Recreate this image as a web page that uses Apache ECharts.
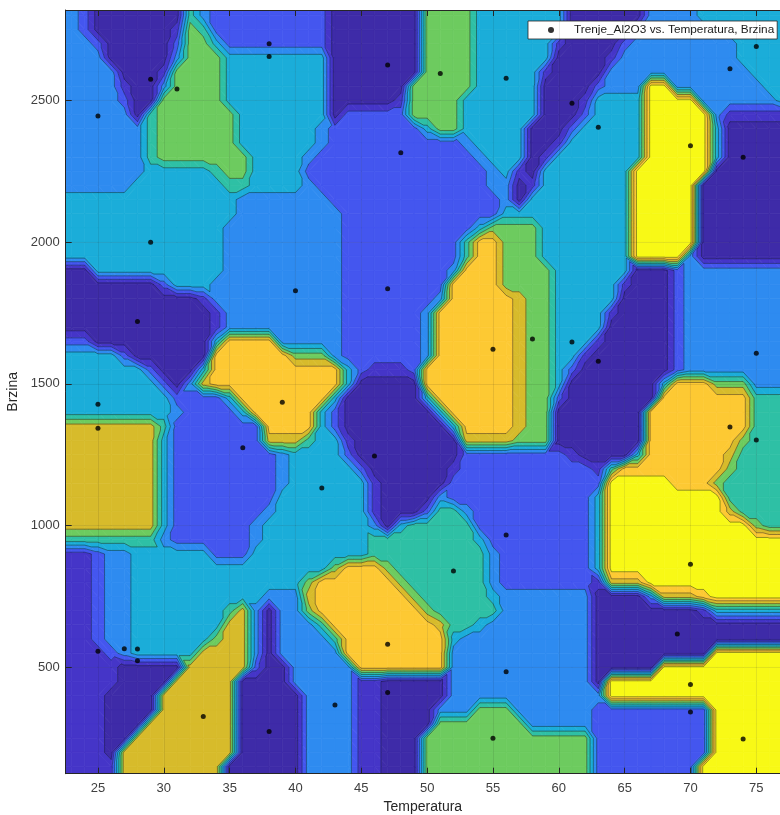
<!DOCTYPE html>
<html>
<head>
<meta charset="utf-8">
<script src="https://cdn.jsdelivr.net/npm/echarts@6/dist/echarts.min.js"></script>
<style>
html,body{margin:0;padding:0;background:#ffffff;}
#chart{width:780px;height:815px;}
</style>
</head>
<body>
<div id="chart"></div>
<script>
// ---- measured data points (Temperatura, Brzina) ----
const temperatura = [29,31,25,29,38,38,47,51,56,48,61,63,70,74,73,75,
  28,25,25,36,40,47,39,55,46,42,56,
  58,61,63,75,73,75,
  25,27,28,28,33,
  52,47,56,47,43,38,55,
  70,69,70,70,74];
const brzina = [2575,2540,2445,2000,2700,2655,2625,2595,2578,2315,2490,2405,2340,2300,2612,2690,
  1720,1428,1344,1275,1829,1836,1435,1622,1246,1133,967,
  1658,1648,1580,1608,1348,1302,
  557,566,565,523,327,
  840,582,485,411,367,274,250,
  864,618,440,343,247];

// ---- axis ticks ----
const tempTicks = [25,30,35,40,45,50,55,60,65,70,75];
const speedTicks = [500,1000,1500,2000,2500];

// ---- grid of the fitted surface (contour level read at each node) ----
const nodeTemps = [22,23,24,25,26,27,28,29,30,31,32,33,34,35,36,37,38,39,40,41,42,43,44,45,46,47,48,49,50,51,52,53,54,55,56,57,58,59,60,61,62,63,64,65,66,67,68,69,70,71,72,73,74,75,76,77];
const nodeSpeeds = [2850,2800,2750,2700,2650,2600,2550,2500,2450,2400,2350,2300,2250,2200,2150,2100,2050,2000,1950,1900,1850,1800,1750,1700,1650,1600,1550,1500,1450,1400,1350,1300,1250,1200,1150,1100,1050,1000,950,900,850,800,750,700,650,600,550,500,450,400,350,300,250,200,150,100];
// each row: "startTemp:level ..." runs, rows ordered from top (2850) to bottom (100)
const levelRows = [
 "22:3 24:2 25:0 32:5 33:3 34:2 43:0 50:6 54:4 61:0 67:3 71:4",
 "22:3 24:2 25:0 32:5 33:3 34:2 43:0 50:6 54:4 61:0 67:3 71:4",
 "22:3 24:2 25:0 31:1 32:6 33:5 34:2 43:0 50:6 54:4 61:0 66:2 67:3 72:4",
 "22:3 25:2 26:0 31:2 32:6 34:4 35:2 43:0 50:6 54:4 60:1 61:0 65:2 66:3 74:4",
 "22:3 26:0 31:3 32:6 35:4 43:0 50:6 54:4 60:0 64:1 65:3 74:4",
 "22:3 27:0 30:1 31:6 35:4 43:0 50:6 54:4 59:1 60:0 64:3 75:4",
 "22:3 27:1 28:0 30:3 31:6 35:4 43:0 49:6 54:4 59:0 63:2 64:3 67:9 69:3 76:4",
 "22:3 27:2 28:0 30:6 35:4 43:0 48:1 49:6 53:4 59:0 62:1 63:4 67:9 71:3 77:4",
 "22:3 28:0 29:5 30:6 36:4 43:0 44:2 49:6 53:4 59:0 62:2 63:4 67:9 72:3 73:1",
 "22:3 29:5 30:6 36:4 42:3 43:2 50:4 51:6 53:4 58:0 61:2 62:4 67:9 72:4 73:0",
 "22:3 29:5 30:6 36:4 42:3 43:2 53:3 54:4 58:0 60:1 61:4 67:9 72:4 73:0",
 "22:3 29:5 30:6 37:4 41:3 42:2 54:3 55:4 58:0 59:1 60:4 67:9 72:4 73:0",
 "22:3 29:4 34:5 35:6 37:4 41:2 55:3 56:4 57:1 58:0 59:4 66:9 72:0",
 "22:3 28:4 35:5 37:4 41:3 42:2 55:3 57:0 58:1 59:4 66:9 71:0",
 "22:4 36:3 43:2 56:3 57:0 58:4 66:9 71:0",
 "22:4 36:3 44:2 56:4 66:9 71:0",
 "22:4 35:3 44:2 54:4 55:6 59:4 66:9 71:0",
 "22:4 35:3 44:2 53:5 54:8 56:6 59:4 66:9 71:0",
 "22:4 35:3 44:2 53:5 54:8 56:6 59:4 66:9 70:3 71:0",
 "22:0 25:4 35:3 44:2 52:3 53:8 56:6 60:4 66:0 69:2 70:3",
 "22:0 30:2 31:4 34:3 44:2 52:8 56:6 60:4 65:1 66:0 69:2 70:3",
 "22:0 33:1 34:3 44:2 51:3 52:8 57:7 58:6 60:4 65:0 69:2 70:3",
 "22:0 34:1 35:3 44:2 50:3 51:8 57:7 58:6 60:4 64:1 65:0 69:2 70:3",
 "22:0 34:1 35:3 44:2 50:3 51:8 57:7 58:6 60:4 64:0 69:2 70:3",
 "22:2 25:0 34:4 35:8 39:3 44:2 50:3 51:8 57:7 58:6 60:4 63:1 64:0 69:2 70:3",
 "22:4 27:2 28:0 34:8 40:6 43:3 44:2 50:3 51:8 57:7 58:6 60:4 62:1 63:0 69:2 70:3",
 "22:4 29:2 30:0 33:4 34:8 44:4 45:2 46:1 49:2 50:8 57:7 58:6 60:4 61:2 62:0 69:2 70:3",
 "22:4 30:2 31:0 32:3 33:7 34:8 44:4 45:0 50:8 57:7 58:6 60:4 61:0 68:4 69:8 72:6 75:3",
 "22:4 31:2 35:4 36:8 43:4 44:0 50:4 51:8 57:7 58:6 60:2 61:0 68:8 75:5",
 "22:4 31:3 32:2 36:4 37:8 42:4 43:2 44:0 51:4 52:8 57:7 58:6 60:0 67:8 75:5",
 "22:7 30:5 31:2 38:8 42:4 43:2 44:0 52:4 53:8 57:7 58:6 60:0 67:8 75:5",
 "22:7 30:4 31:2 38:7 41:5 42:4 44:1 45:0 53:7 57:6 60:0 67:8 74:6 75:5",
 "22:7 30:4 31:2 39:3 40:4 44:2 45:0 53:2 60:2 61:1 62:0 66:4 67:8 73:7 74:5",
 "22:7 30:4 31:2 39:3 40:4 45:2 46:0 52:1 53:2 63:1 64:5 65:8 73:6 74:5",
 "22:7 30:4 31:2 39:3 40:4 46:1 47:0 52:2 64:9 69:8 72:6 73:5",
 "22:7 30:4 31:2 39:4 46:1 47:0 51:3 52:2 63:4 64:9 73:5",
 "22:7 30:4 31:2 38:3 39:4 46:1 47:0 50:2 51:5 53:3 54:2 63:4 64:9 73:7 74:5",
 "22:7 30:4 31:2 37:3 38:4 46:3 47:0 48:4 49:5 54:2 63:4 64:9 75:6 76:5",
 "22:5 30:3 31:2 37:3 38:4 46:5 54:4 55:2 63:4 64:9",
 "22:1 25:2 26:3 28:4 34:2 37:4 46:5 55:3 56:2 63:4 64:9",
 "22:1 25:2 26:3 28:4 43:6 44:8 47:6 48:5 55:3 56:2 63:4 64:9",
 "22:1 25:2 26:3 28:4 41:6 42:8 48:6 49:5 55:3 56:2 63:1 64:7 67:9",
 "22:1 25:2 26:3 28:4 38:3 41:7 42:8 49:6 50:5 55:4 56:3 63:0 67:3 68:7 71:8 72:9",
 "22:1 25:2 26:3 28:4 35:5 36:7 37:3 38:0 39:3 41:6 42:8 50:6 51:5 56:3 63:0 71:1 72:4",
 "22:1 25:2 26:3 28:4 35:7 37:3 38:0 39:3 42:5 43:8 51:7 52:5 54:4 55:3 63:0",
 "22:1 25:2 26:3 28:4 34:6 35:7 37:3 38:0 39:3 43:5 44:8 52:4 53:3 63:0",
 "22:1 26:2 27:3 28:4 33:7 37:3 38:0 39:3 44:8 52:3 63:0 72:9",
 "22:1 27:0 32:7 37:2 38:0 40:3 45:8 52:3 63:0 68:9",
 "22:1 27:0 31:7 36:0 40:3 45:1 47:0 52:3 63:0 64:9",
 "22:1 26:0 30:7 36:0 41:3 45:1 47:0 52:3 64:9",
 "22:1 26:0 30:7 36:0 41:3 45:1 47:0 51:3 54:6 57:3 63:2 72:9",
 "22:1 26:0 29:7 36:0 41:3 45:1 47:0 51:6 58:3 63:2 72:9",
 "22:1 26:0 28:7 36:0 41:3 45:1 47:0 50:6 63:2 72:9",
 "22:1 26:0 27:7 36:0 41:3 45:1 47:0 50:6 63:2 72:9",
 "22:1 26:1 27:7 35:0 41:3 45:1 47:0 50:6 63:2 71:9",
 "22:1 26:1 27:7 35:0 41:3 45:1 47:0 50:6 63:2 71:9"
];
// parula-like colours of the contour bands
const levelColors = ['#3e2ba8','#4535c8','#4456ef','#2e8bf0','#1badd9','#2ec0a5','#6dcb5f','#d7bb2b','#fdc933','#f8f916'];

const seriesName = 'Trenje_Al2O3 vs. Temperatura, Brzina';

// ---- build tables ----
function expandRow(str){
  const runs = str.trim().split(/\s+/).map(s => s.split(':').map(Number));
  return nodeTemps.map(t => { let v = runs[0][1]; for (const r of runs) if (t >= r[0]) v = r[1]; return v; });
}
const levels = levelRows.map(expandRow);
const NL = levelColors.length;
function levelOf(v){ return Math.max(0, Math.min(NL-1, Math.floor(v + 0.5))); }
function clipPoly(poly, t, keepAbove){
  const out = [];
  for (let a = 0; a < poly.length; a++){
    const P = poly[a], Q = poly[(a+1) % poly.length];
    const pin = keepAbove ? P[2] >= t : P[2] <= t;
    const qin = keepAbove ? Q[2] >= t : Q[2] <= t;
    if (pin) out.push(P);
    if (pin !== qin){
      const f = (t - P[2]) / (Q[2] - P[2]);
      out.push([P[0] + f*(Q[0]-P[0]), P[1] + f*(Q[1]-P[1]), t]);
    }
  }
  return out;
}
const cellData = [];
for (let j = 0; j < nodeSpeeds.length - 1; j++){
  for (let i = 0; i < nodeTemps.length - 1; i++){
    cellData.push([(nodeTemps[i]+nodeTemps[i+1])/2, (nodeSpeeds[j]+nodeSpeeds[j+1])/2, i, j]);
  }
}
function cellTriangles(api){
  const i = api.value(2), j = api.value(3);
  const tA = nodeTemps[i], tB = nodeTemps[i+1], sA = nodeSpeeds[j], sB = nodeSpeeds[j+1];
  const a = api.coord([tA, sA]), b = api.coord([tB, sA]), c = api.coord([tB, sB]), d = api.coord([tA, sB]);
  const TL = [a[0], a[1], levels[j][i]], TR = [b[0], b[1], levels[j][i+1]];
  const BR = [c[0], c[1], levels[j+1][i+1]], BL = [d[0], d[1], levels[j+1][i]];
  return {TL, TR, BR, BL, tris: (Math.abs(TL[2]-BR[2]) <= Math.abs(TR[2]-BL[2])) ? [[TL,TR,BR],[TL,BR,BL]] : [[TL,TR,BL],[TR,BR,BL]]};
}
function renderFill(params, api){
  const c = cellTriangles(api);
  const children = [];
  const ls = [c.TL, c.TR, c.BR, c.BL].map(p => levelOf(p[2]));
  if (ls.every(l => l === ls[0])){
    const col = levelColors[ls[0]];
    children.push({type:'polygon', shape:{points:[c.TL, c.TR, c.BR, c.BL].map(p => [p[0], p[1]])}, style:{fill:col, stroke:col, lineWidth:0.7}});
  } else {
    for (const tri of c.tris){
      const vals = tri.map(p => p[2]);
      const kmin = levelOf(Math.min.apply(null, vals)), kmax = levelOf(Math.max.apply(null, vals));
      for (let k = kmin; k <= kmax; k++){
        let poly = tri;
        if (k > 0) poly = clipPoly(poly, k - 0.5, true);
        if (poly.length >= 3 && k < NL - 1) poly = clipPoly(poly, k + 0.5, false);
        if (poly.length >= 3){
          const col = levelColors[k];
          children.push({type:'polygon', shape:{points: poly.map(p => [p[0], p[1]])}, style:{fill:col, stroke:col, lineWidth:0.7}});
        }
      }
    }
  }
  return {type:'group', children};
}
function renderLines(params, api){
  const c = cellTriangles(api);
  const children = [];
  for (const tri of c.tris){
    const vals = tri.map(p => p[2]);
    const kmin = levelOf(Math.min.apply(null, vals)), kmax = levelOf(Math.max.apply(null, vals));
    for (let k = kmin; k < kmax; k++){
      const t = k + 0.5, pts = [];
      for (let e = 0; e < 3; e++){
        const P = tri[e], Q = tri[(e+1) % 3];
        if ((P[2] >= t) !== (Q[2] >= t)){
          const f = (t - P[2]) / (Q[2] - P[2]);
          pts.push([P[0] + f*(Q[0]-P[0]), P[1] + f*(Q[1]-P[1])]);
        }
      }
      if (pts.length === 2){
        children.push({type:'line', shape:{x1:pts[0][0], y1:pts[0][1], x2:pts[1][0], y2:pts[1][1]}, style:{stroke:'rgba(15,15,25,0.62)', lineWidth:0.7}});
      }
    }
  }
  return {type:'group', children};
}

const chart = echarts.init(document.getElementById('chart'), null, {renderer:'canvas'});
const axisColor = '#262626';
const labelFont = 'Liberation Sans, Arial, Helvetica, sans-serif';
const option = {
  animation: false,
  backgroundColor: '#ffffff',
  grid: {left: 65.7, top: 10, right: 0, bottom: 41.3, containLabel: false, outerBoundsMode: 'none'},
  legend: {
    data: [{name: seriesName, icon: 'circle'}],
    left: 528, top: 21,
    itemWidth: 6, itemHeight: 6,
    padding: [3, 3, 3, 20],
    backgroundColor: '#ffffff',
    borderColor: '#262626', borderWidth: 0.8, borderRadius: 0,
    textStyle: {fontSize: 11.8, color: '#1a1a1a', fontFamily: labelFont, padding: [0, 0, 0, 15]},
    selectedMode: false
  },
  xAxis: [{
    type: 'value', min: 22.55, max: 76.8, position: 'bottom', z: 10,
    axisLine: {show: true, onZero: false, lineStyle: {color: axisColor, width: 1}},
    axisTick: {show: true, inside: true, length: 6, customValues: tempTicks, lineStyle: {color: axisColor}},
    axisLabel: {show: true, customValues: tempTicks, color: '#404040', fontSize: 13, margin: 8, fontFamily: labelFont, formatter: v => String(v)},
    splitLine: {show: false},
    name: 'Temperatura', nameLocation: 'middle', nameGap: 26,
    nameTextStyle: {fontSize: 14, color: '#262626', fontFamily: labelFont}
  }, {
    type: 'value', min: 22.55, max: 76.8, position: 'top', z: 10,
    axisLine: {show: true, onZero: false, lineStyle: {color: axisColor, width: 1}},
    axisTick: {show: true, inside: true, length: 6, customValues: tempTicks, lineStyle: {color: axisColor}},
    axisLabel: {show: false}, splitLine: {show: false}
  }],
  yAxis: [{
    type: 'value', min: 125, max: 2819, position: 'left', z: 10,
    axisLine: {show: true, onZero: false, lineStyle: {color: axisColor, width: 1}},
    axisTick: {show: true, inside: true, length: 6, customValues: speedTicks, lineStyle: {color: axisColor}},
    axisLabel: {show: true, customValues: speedTicks, color: '#404040', fontSize: 13, margin: 6, fontFamily: labelFont, formatter: v => String(v)},
    splitLine: {show: false},
    name: 'Brzina', nameLocation: 'middle', nameGap: 36, nameRotate: 90,
    nameTextStyle: {fontSize: 14, color: '#262626', fontFamily: labelFont}
  }],
  series: [{
    type: 'custom', name: 'surface-fill', coordinateSystem: 'cartesian2d', xAxisIndex: 0, yAxisIndex: 0,
    data: cellData, encode: {x: 0, y: 1}, renderItem: renderFill, clip: true, silent: true, z: 1, progressive: 0
  }, {
    type: 'custom', name: 'surface-lines', coordinateSystem: 'cartesian2d', xAxisIndex: 0, yAxisIndex: 0,
    data: cellData, encode: {x: 0, y: 1}, renderItem: renderLines, clip: true, silent: true, z: 2, progressive: 0
  }, {
    type: 'scatter', name: seriesName, xAxisIndex: 0, yAxisIndex: 0,
    data: temperatura.map((t, k) => [t, brzina[k]]),
    symbol: 'circle', symbolSize: 5, itemStyle: {color: '#000000'}, z: 12,
    markLine: {
      silent: true, symbol: ['none', 'none'], label: {show: false},
      lineStyle: {color: 'rgba(30,30,30,0.14)', width: 0.7, type: 'solid'},
      data: tempTicks.map(t => ({xAxis: t})).concat(speedTicks.map(s => ({yAxis: s}))),
      animation: false
    }
  }]
};
chart.setOption(option);
</script>
</body>
</html>
